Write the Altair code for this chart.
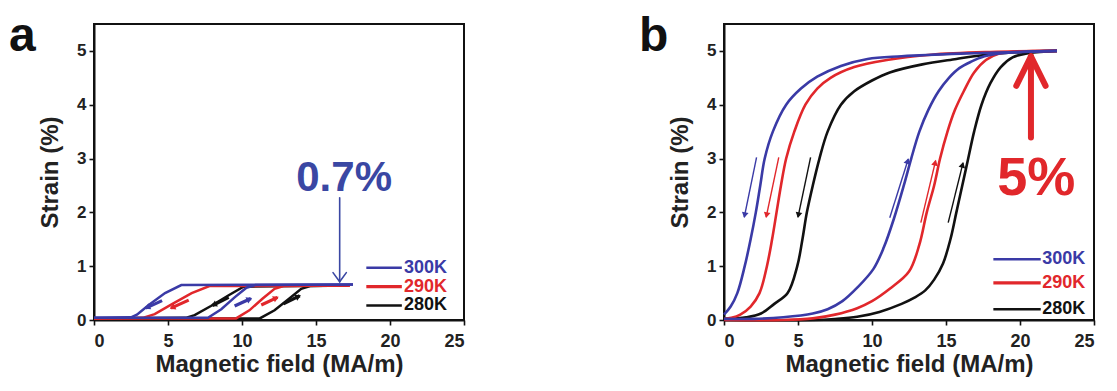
import math
import altair as alt
import pandas as pd

SERIES = ["300K", "290K", "280K"]
COLORS = ["#3a3aa6", "#e1272b", "#111111"]
FONT = "Liberation Sans"

# ---------------- panel a : small stepwise loops ----------------
A300_LOAD_X = [0, 7.7, 8.6, 9.5, 10.3, 10.9, 17.5]
A300_LOAD_Y = [0.04, 0.04, 0.2, 0.42, 0.6, 0.65, 0.66]
A300_UNLOAD_X = [17.5, 5.9, 4.8, 3.7, 2.9, 2.5, 0]
A300_UNLOAD_Y = [0.66, 0.65, 0.5, 0.28, 0.1, 0.05, 0.04]
A290_LOAD_X = [0, 9.6, 10.5, 11.4, 12.2, 12.8, 17.3]
A290_LOAD_Y = [0.03, 0.03, 0.18, 0.4, 0.58, 0.63, 0.64]
A290_UNLOAD_X = [17.3, 7.8, 6.6, 5.3, 4.1, 3.3, 0]
A290_UNLOAD_Y = [0.64, 0.63, 0.5, 0.3, 0.11, 0.04, 0.03]
A280_LOAD_X = [0, 11.2, 12.2, 13.2, 14.0, 14.6, 17.2]
A280_LOAD_Y = [0.03, 0.03, 0.18, 0.4, 0.58, 0.63, 0.64]
A280_UNLOAD_X = [17.2, 10.1, 9.1, 7.9, 6.8, 6.2, 0]
A280_UNLOAD_Y = [0.64, 0.62, 0.46, 0.26, 0.09, 0.04, 0.03]

A_ARROW_SERIES = ["300K", "290K", "280K", "300K", "290K", "280K"]
A_ARROW_X0 = [4.6, 6.4, 9.1, 9.5, 11.3, 12.8]
A_ARROW_Y0 = [0.36, 0.37, 0.42, 0.26, 0.28, 0.30]
A_ARROW_X1 = [3.5, 5.2, 8.0, 10.6, 12.4, 13.9]
A_ARROW_Y1 = [0.22, 0.22, 0.27, 0.40, 0.42, 0.45]

A_NOTE = "0.7%"
A_NOTE_XY = (16.9, 2.64)
A_POINTER = [(16.6, 2.27, 16.6, 0.71), (16.15, 0.88, 16.6, 0.71), (17.05, 0.88, 16.6, 0.71)]
A_LEGEND_X = (18.4, 20.8, 20.95)
A_LEGEND_Y = [0.97, 0.62, 0.27]

# ---------------- panel b : full hysteresis loops ----------------
B300_UP_X = [0, 2, 4, 6, 7, 8, 9, 10.1, 10.8, 11.5, 12.15, 12.65, 13.2, 13.8, 14.5, 15.2, 15.9, 16.7, 17.6, 18.5, 20, 22.5]
B300_UP_Y = [0.02, 0.02, 0.05, 0.12, 0.2, 0.35, 0.6, 0.95, 1.35, 1.9, 2.5, 3.0, 3.5, 3.9, 4.25, 4.5, 4.68, 4.8, 4.9, 4.95, 4.98, 5.0]
B300_DOWN_X = [22.5, 20, 16, 12, 9.7, 7.9, 6.3, 5.2, 4.2, 3.3, 2.75, 2.45, 2.15, 1.8, 1.4, 0.9, 0.45, 0.0]
B300_DOWN_Y = [5.0, 4.98, 4.95, 4.9, 4.85, 4.72, 4.52, 4.3, 4.0, 3.5, 3.0, 2.5, 2.0, 1.5, 1.0, 0.5, 0.25, 0.1]
B290_UP_X = [0, 4, 6, 7.5, 9, 10, 11.2, 12.5, 13.2, 13.7, 14.2, 14.6, 15.1, 15.6, 16.2, 16.9, 17.7, 18.6, 20, 22.5]
B290_UP_Y = [0.0, 0.0, 0.03, 0.1, 0.22, 0.35, 0.58, 0.9, 1.4, 2.0, 2.5, 3.0, 3.5, 3.9, 4.25, 4.6, 4.83, 4.95, 4.99, 5.0]
B290_DOWN_X = [22.5, 18, 14, 11, 8.8, 7.2, 6.3, 5.5, 4.75, 4.2, 3.85, 3.55, 3.25, 2.9, 2.4, 1.8, 1.1, 0.5, 0]
B290_DOWN_Y = [5.0, 4.98, 4.93, 4.83, 4.7, 4.5, 4.3, 4.0, 3.5, 3.0, 2.5, 2.0, 1.5, 1.0, 0.5, 0.25, 0.1, 0.04, 0.02]
B280_UP_X = [0, 6, 7.5, 9, 10.5, 12, 12.9, 13.6, 14.2, 14.8, 15.3, 15.7, 16.1, 16.5, 16.9, 17.4, 18.0, 18.7, 19.5, 20.6, 22.5]
B280_UP_Y = [0.0, 0.0, 0.02, 0.06, 0.15, 0.3, 0.42, 0.55, 0.75, 1.05, 1.5, 2.0, 2.5, 3.0, 3.5, 4.0, 4.4, 4.7, 4.88, 4.96, 5.0]
B280_DOWN_X = [22.5, 19, 16.9, 15.7, 13.4, 11.2, 10, 8.8, 7.9, 7.0, 6.45, 6.0, 5.6, 5.3, 4.95, 4.3, 3.4, 2.5, 1.5, 0]
B280_DOWN_Y = [5.0, 4.96, 4.9, 4.85, 4.75, 4.6, 4.45, 4.25, 4.0, 3.5, 3.0, 2.5, 2.0, 1.5, 1.0, 0.5, 0.3, 0.12, 0.05, 0.02]

B_ARROW_SERIES = ["300K", "290K", "280K", "300K", "290K", "280K"]
B_ARROW_X0 = [2.2, 3.70, 5.85, 11.2, 13.3, 15.15]
B_ARROW_Y0 = [3.02, 3.02, 3.02, 1.90, 1.81, 1.81]
B_ARROW_X1 = [1.37, 2.85, 5.0, 12.45, 14.3, 16.15]
B_ARROW_Y1 = [1.91, 1.91, 1.91, 2.99, 2.96, 2.92]

B_NOTE = "5%"
B_NOTE_XY = (21.1, 2.62)
B_POINTER = [(20.74, 3.39, 20.74, 4.87), (19.75, 4.35, 20.74, 4.9), (21.73, 4.35, 20.74, 4.9)]
B_LEGEND_X = (18.2, 21.4, 21.5)
B_LEGEND_Y = [1.13, 0.69, 0.2]

X_TICKS = [0, 2.5, 5, 7.5, 10, 12.5, 15, 17.5, 20, 22.5, 25]
Y_TICKS = [0, 0.5, 1, 1.5, 2, 2.5, 3, 3.5, 4, 4.5, 5]

# ---------------- layout ----------------
W, H = 370, 296
XMAX, YMAX = 25, 5.5
PXX, PXY = W / XMAX, H / YMAX

color_scale = alt.Scale(domain=SERIES, range=COLORS)

X_ENC = alt.X("x:Q", scale=alt.Scale(domain=[0, XMAX], nice=False, zero=False),
              axis=alt.Axis(title="Magnetic field (MA/m)", values=X_TICKS,
                            labelExpr="datum.value % 5 == 0 ? format(datum.value, 'd') : ''",
                            labelFontSize=18, labelPadding=7, titlePadding=2))
Y_ENC = alt.Y("y:Q", scale=alt.Scale(domain=[0, YMAX], nice=False, zero=False),
              axis=alt.Axis(title="Strain (%)", values=Y_TICKS,
                            labelExpr="datum.value % 1 == 0 ? format(datum.value, 'd') : ''",
                            labelFontSize=17, labelPadding=3, titlePadding=14))
COLOR_ENC = alt.Color("series:N", scale=color_scale, legend=None)


def curves(parts):
    frames = []
    for series, branch, xs, ys in parts:
        frames.append(pd.DataFrame({"series": series, "key": series + branch,
                                    "i": list(range(len(xs))), "x": xs, "y": ys}))
    return pd.concat(frames, ignore_index=True)


def arrows(series, x0, y0, x1, y1, back_px):
    rows = []
    for s, a, b, c, d in zip(series, x0, y0, x1, y1):
        sdx, sdy = (c - a) * PXX, (d - b) * PXY
        L = math.hypot(sdx, sdy)
        ang = math.degrees(math.atan2(sdx, sdy)) % 360
        rows.append({"series": s, "x": a, "y": b, "x2": c, "y2": d,
                     "hx": c - sdx / L * back_px / PXX, "hy": d - sdy / L * back_px / PXY,
                     "ang": ang})
    return pd.DataFrame(rows)


def legend_df(xs, ys):
    return pd.DataFrame({"series": SERIES, "x": [xs[0]] * 3, "x2": [xs[1]] * 3,
                         "tx": [xs[2]] * 3, "y": ys})


def pointer_df(segs):
    return pd.DataFrame([{"x": a, "y": b, "x2": c, "y2": d} for a, b, c, d in segs])


def panel(curve_df, interp, lw, arrow_df, arrow_w, head_size,
          leg, note, note_xy, note_color, note_size, ptr, ptr_color, ptr_w, letter):
    lines = alt.Chart(curve_df).mark_line(strokeWidth=lw, interpolate=interp).encode(
        x=X_ENC, y=Y_ENC, color=COLOR_ENC, detail="key:N", order="i:Q")
    shafts = alt.Chart(arrow_df).mark_rule(strokeWidth=arrow_w).encode(
        x=X_ENC, y=Y_ENC, x2="x2:Q", y2="y2:Q", color=COLOR_ENC)
    heads = alt.Chart(arrow_df).mark_point(shape="triangle", filled=True, size=head_size,
                                           opacity=1).encode(
        x=alt.X("hx:Q"), y=alt.Y("hy:Q"), color=COLOR_ENC,
        angle=alt.Angle("ang:Q", scale=None))
    leg_lines = alt.Chart(leg).mark_rule().encode(
        x=X_ENC, x2="x2:Q", y=Y_ENC, color=COLOR_ENC,
        strokeWidth=alt.condition(alt.datum.series == "290K", alt.value(3.2), alt.value(2.6)))
    leg_text = alt.Chart(leg).mark_text(align="left", baseline="middle", fontSize=18,
                                        fontWeight="bold", font=FONT, dx=0).encode(
        x=alt.X("tx:Q"), y=Y_ENC, text="series:N", color=COLOR_ENC)
    note_layer = alt.Chart(pd.DataFrame({"x": [note_xy[0]], "y": [note_xy[1]], "t": [note]})).mark_text(
        align="center", baseline="middle", fontSize=note_size, fontWeight="bold",
        font=FONT, color=note_color).encode(x=X_ENC, y=Y_ENC, text="t:N")
    ptr_layer = alt.Chart(ptr).mark_rule(color=ptr_color, strokeWidth=ptr_w, strokeCap="round").encode(
        x=X_ENC, y=Y_ENC, x2="x2:Q", y2="y2:Q")
    letter_layer = alt.Chart(pd.DataFrame({"t": [letter]})).mark_text(
        align="left", baseline="alphabetic", fontSize=48, fontWeight="bold", font=FONT,
        color="#111111").encode(text="t:N", x=alt.value(-85), y=alt.value(27))
    return alt.layer(lines, shafts, heads, leg_lines, leg_text, ptr_layer, note_layer,
                     letter_layer).properties(width=W, height=H)


a_curves = curves([
    ("280K", "L", A280_LOAD_X, A280_LOAD_Y), ("280K", "U", A280_UNLOAD_X, A280_UNLOAD_Y),
    ("290K", "L", A290_LOAD_X, A290_LOAD_Y), ("290K", "U", A290_UNLOAD_X, A290_UNLOAD_Y),
    ("300K", "L", A300_LOAD_X, A300_LOAD_Y), ("300K", "U", A300_UNLOAD_X, A300_UNLOAD_Y),
])
b_curves = curves([
    ("280K", "L", B280_UP_X, B280_UP_Y), ("280K", "U", B280_DOWN_X, B280_DOWN_Y),
    ("290K", "L", B290_UP_X, B290_UP_Y), ("290K", "U", B290_DOWN_X, B290_DOWN_Y),
    ("300K", "L", B300_UP_X, B300_UP_Y), ("300K", "U", B300_DOWN_X, B300_DOWN_Y),
])

panel_a = panel(a_curves, "linear", 2.5,
                arrows(A_ARROW_SERIES, A_ARROW_X0, A_ARROW_Y0, A_ARROW_X1, A_ARROW_Y1, 2.5),
                3.2, 45,
                legend_df(A_LEGEND_X, A_LEGEND_Y), A_NOTE, A_NOTE_XY, "#3a47a3", 42,
                pointer_df(A_POINTER), "#3a47a3", 1.6, "a")
panel_b = panel(b_curves, "catmull-rom", 2.6,
                arrows(B_ARROW_SERIES, B_ARROW_X0, B_ARROW_Y0, B_ARROW_X1, B_ARROW_Y1, 3),
                1.4, 45,
                legend_df(B_LEGEND_X, B_LEGEND_Y), B_NOTE, B_NOTE_XY, "#e1272b", 54,
                pointer_df(B_POINTER), "#e1272b", 6, "b")

chart = alt.hconcat(panel_a, panel_b, spacing=260, bounds="flush",
                    padding={"top": 4, "left": 0, "right": 0, "bottom": 0}).configure_view(
    stroke="#111111", strokeWidth=2
).configure_axis(
    grid=False, domainColor="#111111", domainWidth=2, tickColor="#111111", tickWidth=1.6,
    tickSize=5, labelFont=FONT, labelFontWeight="bold", labelColor="#222222",
    titleFont=FONT, titleFontWeight="bold", titleFontSize=24, titleColor="#222222"
)

chart.save("out.html", embed_options={"renderer": "svg", "actions": False})
